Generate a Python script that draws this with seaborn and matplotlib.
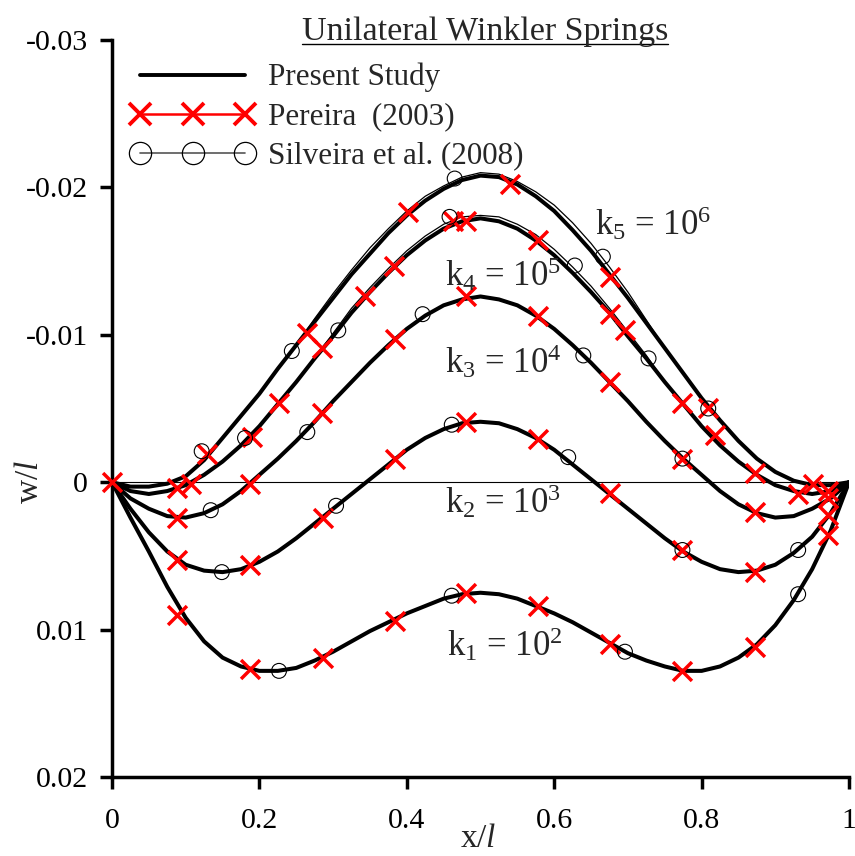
import matplotlib
matplotlib.use("Agg")
import matplotlib.pyplot as plt
from matplotlib.lines import Line2D
import pandas as pd
import seaborn as sns

# ---------------- data ----------------
x_grid = [0.000, 0.025, 0.050, 0.075, 0.100, 0.125, 0.150, 0.175, 0.200, 0.225,
          0.250, 0.275, 0.300, 0.325, 0.350, 0.375, 0.400, 0.425, 0.450, 0.475,
          0.500, 0.525, 0.550, 0.575, 0.600, 0.625, 0.650, 0.675, 0.700, 0.725,
          0.750, 0.775, 0.800, 0.825, 0.850, 0.875, 0.900, 0.925, 0.950, 0.975, 1.000]

w_k1 = [0, 0.0024, 0.0047, 0.0071, 0.0092, 0.0108, 0.0119, 0.0125, 0.0128, 0.0128,
        0.0126, 0.0121, 0.0115, 0.0108, 0.0101, 0.0095, 0.0089, 0.0084, 0.0079, 0.0076,
        0.0075, 0.0076, 0.0079, 0.0084, 0.0089, 0.0095, 0.0102, 0.0109, 0.0116, 0.0121,
        0.0125, 0.0128, 0.0128, 0.0125, 0.0119, 0.0110, 0.0097, 0.0080, 0.0059, 0.0033, 0]
w_k2 = [0, 0.0018, 0.0034, 0.0047, 0.0056, 0.0060, 0.0061, 0.0059, 0.0054, 0.0047,
        0.0038, 0.0028, 0.0018, 0.0008, -0.0002, -0.0012, -0.0022, -0.0030, -0.0036, -0.0040,
        -0.0041, -0.0040, -0.0036, -0.0030, -0.0022, -0.0012, -0.0002, 0.0008, 0.0018, 0.0028,
        0.0038, 0.0047, 0.0054, 0.0059, 0.0061, 0.0060, 0.0056, 0.0048, 0.0037, 0.0021, 0]
w_k3 = [0, 0.0011, 0.0018, 0.0023, 0.0024, 0.0021, 0.0015, 0.0006, -0.0005, -0.0016,
        -0.0028, -0.0041, -0.0055, -0.0068, -0.0081, -0.0093, -0.0104, -0.0113, -0.0120, -0.0124,
        -0.0126, -0.0124, -0.0120, -0.0113, -0.0104, -0.0093, -0.0081, -0.0068, -0.0055, -0.0041,
        -0.0028, -0.0016, -0.0005, 0.0006, 0.0015, 0.0021, 0.0024, 0.0023, 0.0018, 0.0011, 0]
w_k4 = [0, 0.0006, 0.0008, 0.0006, 0.0002, -0.0005, -0.0014, -0.0025, -0.0038, -0.0053,
        -0.0068, -0.0084, -0.0099, -0.0115, -0.0129, -0.0142, -0.0154, -0.0164, -0.0172, -0.0177,
        -0.0179, -0.0177, -0.0172, -0.0164, -0.0154, -0.0142, -0.0129, -0.0115, -0.0099, -0.0084,
        -0.0068, -0.0053, -0.0038, -0.0025, -0.0014, -0.0005, 0.0002, 0.0006, 0.0008, 0.0006, 0]
w_k5 = [0, 0.0003, 0.0003, 0.0001, -0.0004, -0.0015, -0.0030, -0.0045, -0.0060, -0.0077,
        -0.0093, -0.0109, -0.0125, -0.0141, -0.0155, -0.0169, -0.0181, -0.0191, -0.0199, -0.0205,
        -0.0208, -0.0207, -0.0202, -0.0194, -0.0184, -0.0171, -0.0157, -0.0141, -0.0125, -0.0108,
        -0.0091, -0.0074, -0.0057, -0.0042, -0.0028, -0.0016, -0.0007, -0.0001, 0.0002, 0.0002, 0]

# Silveira et al. (2008) thin lines where they separate from the present curves
silv_line_x_k5 = [0.250, 0.275, 0.300, 0.325, 0.350, 0.375, 0.400, 0.425, 0.450, 0.475, 0.500,
                  0.525, 0.550, 0.575, 0.600, 0.625, 0.650, 0.675, 0.700, 0.725, 0.750]
silv_line_w_k5 = [-0.0093, -0.0111, -0.0128, -0.0144, -0.0159, -0.0172, -0.0184, -0.0194, -0.0201,
                  -0.0207, -0.0210, -0.0209, -0.0204, -0.0197, -0.0188, -0.0176, -0.0162, -0.0146,
                  -0.0129, -0.0110, -0.0091]
silv_line_x_k4 = [0.275, 0.300, 0.325, 0.350, 0.375, 0.400, 0.425, 0.450, 0.475, 0.500,
                  0.525, 0.550, 0.575, 0.600, 0.625, 0.650, 0.675, 0.700, 0.725, 0.750]
silv_line_w_k4 = [-0.0084, -0.0101, -0.0118, -0.0132, -0.0145, -0.0157, -0.0167, -0.0175, -0.0180,
                  -0.0181, -0.0180, -0.0175, -0.0168, -0.0158, -0.0146, -0.0133, -0.0118, -0.0102,
                  -0.0086, -0.0068]

# Pereira (2003) points
pereira_x = [0.0,
             0.0886, 0.187, 0.286, 0.384, 0.481, 0.5785, 0.676, 0.774, 0.8725, 0.971,
             0.0886, 0.187, 0.286, 0.384, 0.481, 0.5785, 0.676, 0.774, 0.8725, 0.971,
             0.0886, 0.187, 0.2845, 0.384, 0.481, 0.5785, 0.676, 0.774, 0.8725, 0.971,
             0.0886, 0.107, 0.1895, 0.2266, 0.2845, 0.343, 0.383, 0.463, 0.481, 0.5785,
             0.676, 0.696, 0.774, 0.818, 0.8725, 0.931, 0.971,
             0.1285, 0.265, 0.402, 0.540, 0.676, 0.809, 0.951]
pereira_w = [0.0,
             0.0090, 0.0127, 0.0119, 0.0094, 0.0075, 0.0084, 0.0110, 0.0128, 0.0112, 0.0036,
             0.0053, 0.0056, 0.0024, -0.0016, -0.0041, -0.0029, 0.0007, 0.0046, 0.0061, 0.0022,
             0.0024, 0.0001, -0.0047, -0.0097, -0.0126, -0.0113, -0.0068, -0.0016, 0.0020, 0.0011,
             0.0004, 0.0001, -0.0031, -0.0054, -0.0091, -0.0126, -0.0147, -0.0177, -0.0177, -0.0164,
             -0.0114, -0.0103, -0.0054, -0.0032, -0.0006, 0.0008, 0.0006,
             -0.0019, -0.0101, -0.0183, -0.0202, -0.0139, -0.0050, 0.0001]

# Silveira et al. (2008) points
silveira_x = [0.2266, 0.461, 0.696, 0.931,
              0.149, 0.304, 0.461, 0.619, 0.774, 0.931,
              0.134, 0.265, 0.4215, 0.6395, 0.774,
              0.1805, 0.307, 0.458, 0.628, 0.728,
              0.1217, 0.244, 0.465, 0.666, 0.809]
silveira_w = [0.0128, 0.0077, 0.0115, 0.0076,
              0.0061, 0.0016, -0.0039, -0.0017, 0.0046, 0.0046,
              0.0019, -0.0034, -0.0114, -0.0086, -0.0016,
              -0.0030, -0.0103, -0.0180, -0.0147, -0.0084,
              -0.0021, -0.0089, -0.0206, -0.0153, -0.0050]

curve_names = ["k1", "k2", "k3", "k4", "k5"]
curve_labels = [r"k$_1$ = 10$^2$", r"k$_2$ = 10$^3$", r"k$_3$ = 10$^4$",
                r"k$_4$ = 10$^5$", r"k$_5$ = 10$^6$"]
label_x = [0.4545, 0.452, 0.452, 0.452, 0.655]
label_w = [0.0118, 0.0021, -0.0074, -0.0133, -0.0168]

legend_labels = ["Present Study", "Pereira  (2003)", "Silveira et al. (2008)"]
title_text = "Unilateral Winkler Springs"

xticks = [0, 0.2, 0.4, 0.6, 0.8, 1.0]
xtick_labels = ["0", "0.2", "0.4", "0.6", "0.8", "1"]
yticks = [-0.03, -0.02, -0.01, 0.0, 0.01, 0.02]
ytick_labels = ["-0.03", "-0.02", "-0.01", "0", "0.01", "0.02"]

# ---------------- styling ----------------
sns.set_style("white")
plt.rcParams["font.family"] = ["Liberation Serif", "DejaVu Serif"]
plt.rcParams["mathtext.fontset"] = "custom"
plt.rcParams["mathtext.rm"] = "Liberation Serif"
plt.rcParams["mathtext.it"] = "Liberation Serif:italic"

W, H = 855, 856
fig = plt.figure(figsize=(W / 100, H / 100), dpi=100)
ax = fig.add_axes([112 / W, 1 - 777 / H, 737 / W, 737 / H])

df = pd.DataFrame({
    "x": x_grid * 5,
    "w": w_k1 + w_k2 + w_k3 + w_k4 + w_k5,
    "curve": sum([[n] * len(x_grid) for n in curve_names], []),
})

ax.axhline(0, color="black", lw=0.8, zorder=1)
sns.lineplot(data=df, x="x", y="w", units="curve", estimator=None, sort=False,
             color="black", lw=2.9, ax=ax, zorder=3, legend=False)
ax.plot(silv_line_x_k5, silv_line_w_k5, color="black", lw=0.9, zorder=2)
ax.plot(silv_line_x_k4, silv_line_w_k4, color="black", lw=0.9, zorder=2)

ax.scatter(pereira_x, pereira_w, marker="x", s=185, color="red", linewidths=2.5,
           zorder=5, clip_on=False)
ax.scatter(silveira_x, silveira_w, marker="o", s=115, facecolors="none",
           edgecolors="black", linewidths=0.8, zorder=6, clip_on=False)

for lab, lx, lw_ in zip(curve_labels, label_x, label_w):
    ax.text(lx, lw_, lab, fontsize=25, ha="left", va="baseline", zorder=7)

ax.set_xlim(0, 1)
ax.set_ylim(0.02, -0.03)
ax.set_xticks(xticks)
ax.set_xticklabels(xtick_labels)
ax.set_yticks(yticks)
ax.set_yticklabels(ytick_labels)
ax.set_xlabel("")
ax.set_ylabel("")
for s in ["top", "right"]:
    ax.spines[s].set_visible(False)
for s in ["left", "bottom"]:
    ax.spines[s].set_linewidth(2.5)
    ax.spines[s].set_color("black")
ax.tick_params(axis="both", direction="out", length=8.6, width=2.5, labelsize=21.5,
               color="black", labelcolor="black", bottom=True, left=True)
ax.tick_params(axis="y", pad=9)
ax.tick_params(axis="x", pad=14)

fig.text(30 / W, 1 - 482 / H, r"w/$\mathit{l}$", rotation=90, fontsize=24,
         ha="center", va="center")
fig.text(478 / W, 1 - 839 / H, r"x/$\mathit{l}$", fontsize=24, ha="center", va="center")

# legend
fs_leg = 22.4
fs_px = fs_leg * 100 / 72
h1 = Line2D([], [], color="black", lw=2.8)
h2 = Line2D([], [], color="red", lw=1.8, marker="x", markersize=16, markeredgewidth=2.8)
h3 = Line2D([], [], color="#555555", lw=1.2, marker="o", markersize=16,
            markerfacecolor="none", markeredgecolor="black", markeredgewidth=0.9)
hl = (105 + 0.6 * fs_px) / fs_px
x_anchor = 140 - 0.3 * fs_px
htp = (268 - (x_anchor + hl * fs_px)) / fs_px
fig.legend([h1, h2, h3], legend_labels, loc="upper left",
           bbox_to_anchor=(x_anchor / W, 1 - 63 / H), bbox_transform=fig.transFigure,
           frameon=False, fontsize=fs_leg, numpoints=3, handlelength=hl,
           handletextpad=htp, labelspacing=0.32, borderpad=0, borderaxespad=0)

# title with underline
t = fig.text(485 / W, 1 - 40 / H, title_text, fontsize=24.5, ha="center", va="baseline")
fig.canvas.draw()
bb = t.get_window_extent(fig.canvas.get_renderer())
yl = (1 - 40 / H) - 3.5 / H
fig.add_artist(Line2D([bb.x0 / W, bb.x1 / W], [yl, yl], transform=fig.transFigure,
                      color="black", lw=1.0))

fig.savefig("out.png", dpi=100)
